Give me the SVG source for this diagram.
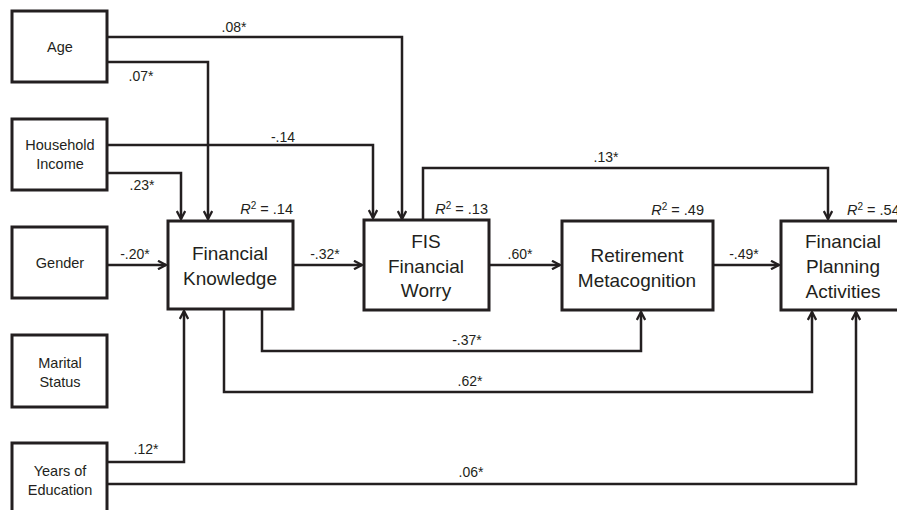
<svg xmlns="http://www.w3.org/2000/svg" width="897" height="510" viewBox="0 0 897 510">
<style>
.box{fill:#fff;stroke:#231f20;stroke-width:3}
.c{fill:none;stroke:#231f20;stroke-width:2.5;marker-end:url(#ah)}
.s{font-family:"Liberation Sans",Arial,sans-serif;font-size:14.5px;fill:#231f20;text-anchor:middle}
.b{font-family:"Liberation Sans",Arial,sans-serif;font-size:19px;fill:#231f20;text-anchor:middle}
.l{font-family:"Liberation Sans",Arial,sans-serif;font-size:14px;fill:#231f20;text-anchor:middle}
.r{font-family:"Liberation Sans",Arial,sans-serif;font-size:14.5px;fill:#231f20}
.re{text-anchor:end}
</style>
<defs>
<marker id="ah" viewBox="0 0 10 10" refX="9" refY="5" markerWidth="10" markerHeight="10" markerUnits="userSpaceOnUse" orient="auto">
<path d="M1,0.8 L9,5 L1,9.2" fill="none" stroke="#231f20" stroke-width="2.3"/>
</marker>
</defs>
<rect width="897" height="510" fill="#fff"/>
<g id="connectors">
<path class="c" d="M107,37 H402 V219"/>
<path class="c" d="M107,62 H208 V219"/>
<path class="c" d="M107,145 H373 V218"/>
<path class="c" d="M107,173 H181 V219"/>
<path class="c" d="M107,265 H166"/>
<path class="c" d="M293,265 H362"/>
<path class="c" d="M489,265 H560"/>
<path class="c" d="M713,265 H779"/>
<path class="c" d="M423,220 V168 H828 V219"/>
<path class="c" d="M262,309 V351 H641 V312"/>
<path class="c" d="M224,309 V392 H812 V312"/>
<path class="c" d="M107,462 H184 V311"/>
<path class="c" d="M107,484 H856 V312"/>
<text class="l" x="234" y="32">.08*</text>
<text class="l" x="141" y="81">.07*</text>
<text class="l" x="283" y="142">-.14</text>
<text class="l" x="142" y="190">.23*</text>
<text class="l" x="135" y="259">-.20*</text>
<text class="l" x="325" y="259">-.32*</text>
<text class="l" x="520" y="259">.60*</text>
<text class="l" x="744" y="259">-.49*</text>
<text class="l" x="606" y="162">.13*</text>
<text class="l" x="467" y="345">-.37*</text>
<text class="l" x="470" y="386">.62*</text>
<text class="l" x="146" y="454">.12*</text>
<text class="l" x="471" y="477">.06*</text>
</g>
<g id="age"><rect class="box" x="12" y="11" width="95" height="71"/><text class="s" x="60" y="52">Age</text></g>
<g id="income"><rect class="box" x="12" y="119" width="95" height="71"/><text class="s" x="60" y="150">Household</text><text class="s" x="60" y="169">Income</text></g>
<g id="gender"><rect class="box" x="12" y="227" width="95" height="71"/><text class="s" x="60" y="268">Gender</text></g>
<g id="marital"><rect class="box" x="12" y="335" width="95" height="72"/><text class="s" x="60" y="368">Marital</text><text class="s" x="60" y="387">Status</text></g>
<g id="education"><rect class="box" x="12" y="443" width="95" height="72"/><text class="s" x="60" y="476">Years of</text><text class="s" x="60" y="495">Education</text></g>
<g id="knowledge"><rect class="box" x="168" y="221" width="125" height="88"/><text class="b" x="230" y="260">Financial</text><text class="b" x="230" y="285">Knowledge</text><text class="r re" x="293" y="214"><tspan font-style="italic">R</tspan><tspan font-size="10" dy="-5">2</tspan><tspan dy="5"> = .14</tspan></text></g>
<g id="worry"><rect class="box" x="364" y="220" width="125" height="90"/><text class="b" x="426" y="248">FIS</text><text class="b" x="426" y="273">Financial</text><text class="b" x="426" y="297">Worry</text><text class="r re" x="488" y="214"><tspan font-style="italic">R</tspan><tspan font-size="10" dy="-5">2</tspan><tspan dy="5"> = .13</tspan></text></g>
<g id="metacognition"><rect class="box" x="562" y="221" width="151" height="89"/><text class="b" x="637" y="262">Retirement</text><text class="b" x="637" y="287">Metacognition</text><text class="r re" x="704" y="215"><tspan font-style="italic">R</tspan><tspan font-size="10" dy="-5">2</tspan><tspan dy="5"> = .49</tspan></text></g>
<g id="planning"><rect class="box" x="781" y="221" width="130" height="89"/><text class="b" x="843" y="248">Financial</text><text class="b" x="843" y="273">Planning</text><text class="b" x="843" y="298">Activities</text><text class="r" x="847" y="215"><tspan font-style="italic">R</tspan><tspan font-size="10" dy="-5">2</tspan><tspan dy="5"> = .54</tspan></text></g>
</svg>
